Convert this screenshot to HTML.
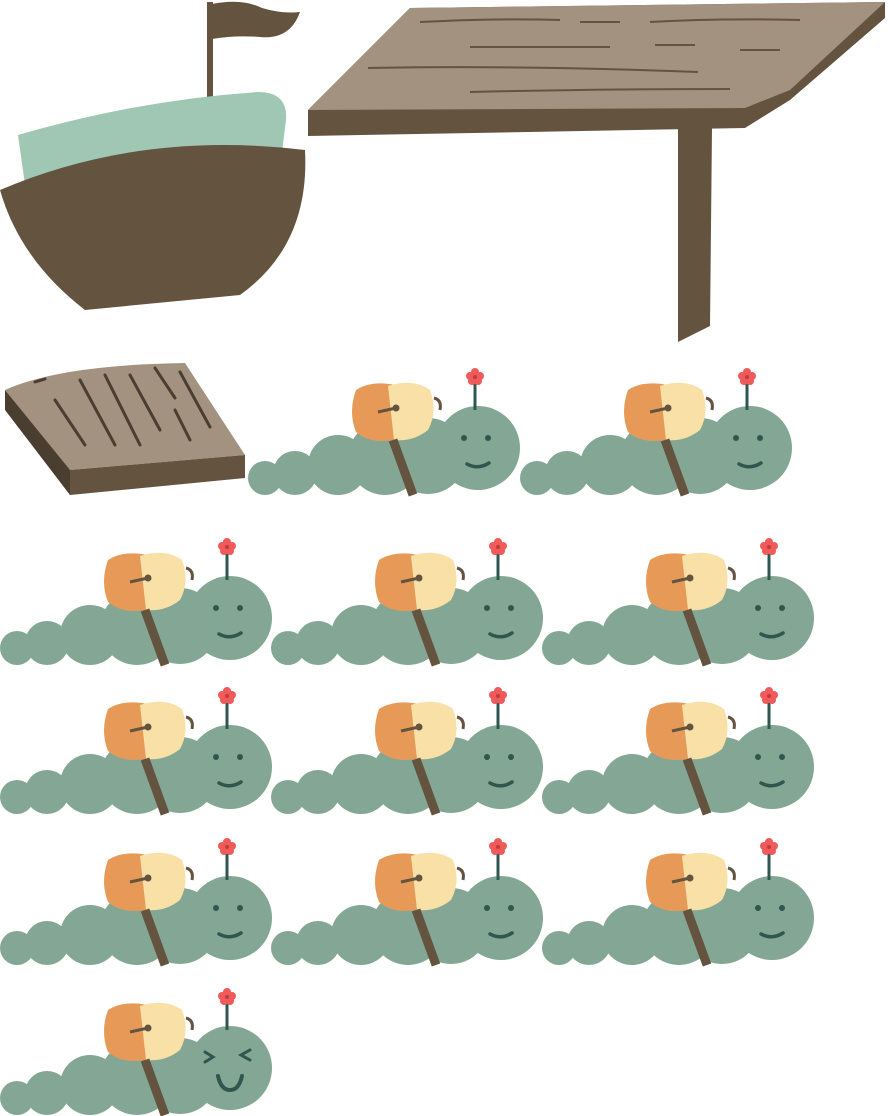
<!DOCTYPE html>
<html><head><meta charset="utf-8"><style>
html,body{margin:0;padding:0;background:#fff;width:888px;height:1116px;overflow:hidden}
svg{display:block}
</style></head><body>
<svg width="888" height="1116" viewBox="0 0 888 1116">
<defs>
<g id="cat-body">
  <g fill="#83a794">
    <circle cx="17" cy="110" r="17"/>
    <circle cx="47" cy="105" r="22"/>
    <circle cx="90" cy="97" r="30"/>
    <circle cx="137" cy="90" r="37"/>
    <circle cx="180" cy="88" r="38"/>
    <circle cx="230" cy="80" r="42"/>
  </g>
  <line x1="227" y1="12" x2="227" y2="42" stroke="#2f5750" stroke-width="3"/>
  <g fill="#f05a5a">
    <circle cx="227" cy="4" r="4"/><circle cx="222" cy="8" r="4"/><circle cx="232" cy="8" r="4"/><circle cx="224" cy="13" r="4"/><circle cx="230" cy="13" r="4"/>
  </g>
  <circle cx="227" cy="9" r="2" fill="#c03b3b"/>
  <path d="M186 30 q8 2 6 12" fill="none" stroke="#64533f" stroke-width="3"/>
  <path d="M108 22 q15 -10 40 -5 l8 52 q-30 10 -48 -5 q-8 -20 0 -42z" fill="#e79a58"/>
  <path d="M140 18 q25 -8 42 4 q8 22 -2 40 q-15 12 -34 10 z" fill="#f9e0a6"/>
  <path d="M145 72 l20 55" stroke="#64533f" stroke-width="9"/>
  <line x1="130" y1="44" x2="148" y2="40" stroke="#64533f" stroke-width="3"/>
  <circle cx="148" cy="40" r="3.5" fill="#64533f"/>
</g>
<g id="cat">
  <use href="#cat-body"/>
  <circle cx="216" cy="70" r="3" fill="#2f5750"/>
  <circle cx="240" cy="70" r="3" fill="#2f5750"/>
  <path d="M219 96 q11 6 22 -1" fill="none" stroke="#2f5750" stroke-width="3.5" stroke-linecap="round"/>
</g>
</defs>

<g>
  <rect x="207" y="2" width="6" height="95" fill="#64533f"/>
  <path d="M212 4 q30 -6 50 4 q20 6 38 4 q-10 28 -40 25 q-25 -2 -48 2z" fill="#64533f"/>
  <path d="M18 135 q120 -35 240 -43 q30 0 28 28 l-5 40 L25 185 z" fill="#9fc7b4"/>
  <path d="M0 190 q140 -60 305 -40 q5 95 -65 145 L85 310 Q20 260 0 190z" fill="#64533f"/>
</g>

<g>
  <path d="M678 128 L712 128 L710 326 L678 342 z" fill="#64533f"/>
  <path d="M308 110 L410 8 L885 2 L885 18 L790 100 L745 128 L308 136 z" fill="#64533f"/>
  <path d="M308 110 L410 8 L885 2 L790 90 L745 108 z" fill="#a39280"/>
  <g stroke="#64533f" stroke-width="2" fill="none">
    <path d="M420 22 q80 -4 140 -2"/><path d="M580 22 h40"/><path d="M650 22 q70 -4 150 -2"/>
    <path d="M470 47 h140"/><path d="M655 45 h40"/><path d="M740 50 h40"/>
    <path d="M368 68 q150 -3 330 4"/><path d="M470 92 q120 -3 260 -3"/>
  </g>
</g>

<g>
  <path d="M5 390 L5 410 L70 495 L72 470 z" fill="#4a3e31"/>
  <path d="M5 390 Q60 365 185 363 L245 455 L70 470 z" fill="#a39280"/>
  <path d="M70 470 L245 455 L245 478 L70 495 z" fill="#64533f"/>
  <g stroke="#4a3e31" stroke-width="3" fill="none" stroke-linecap="round">
    <path d="M35 382 l10 -3"/><path d="M55 400 l30 45"/><path d="M80 380 l35 65"/><path d="M105 375 l35 70"/>
    <path d="M130 375 l30 55"/><path d="M155 368 l20 30"/><path d="M175 410 l15 30"/><path d="M180 372 l30 55"/>
  </g>
</g>

<g><use href="#cat" x="248" y="368"/></g>
<g><use href="#cat" x="520" y="368"/></g>
<g><use href="#cat" x="0" y="538"/></g>
<g><use href="#cat" x="271" y="538"/></g>
<g><use href="#cat" x="542" y="538"/></g>
<g><use href="#cat" x="0" y="687"/></g>
<g><use href="#cat" x="271" y="687"/></g>
<g><use href="#cat" x="542" y="687"/></g>
<g><use href="#cat" x="0" y="838"/></g>
<g><use href="#cat" x="271" y="838"/></g>
<g><use href="#cat" x="542" y="838"/></g>
<g transform="translate(0,988)">
  <use href="#cat-body"/>
  <path d="M205 64 l8 5 l-8 5 M250 62 l-9 5 l9 5" fill="none" stroke="#2f5750" stroke-width="3" stroke-linecap="round"/>
  <path d="M218 88 q3 14 12 14 q9 0 12 -14" fill="none" stroke="#2f5750" stroke-width="4" stroke-linecap="round"/>
</g>
</svg>
</body></html>
